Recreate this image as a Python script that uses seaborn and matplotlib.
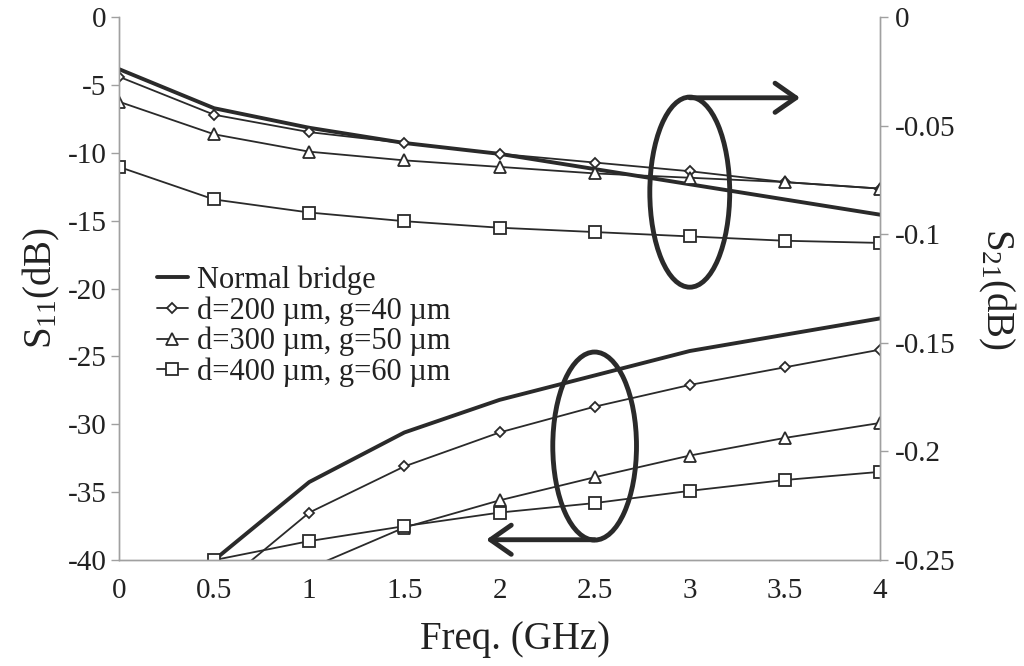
import numpy as np
import pandas as pd
import matplotlib
matplotlib.use("Agg")
import matplotlib.pyplot as plt
from matplotlib.patches import Ellipse
import seaborn as sns

# ---- data ----
freq = [0, 0.5, 1, 1.5, 2, 2.5, 3, 3.5, 4]
labels = ["Normal bridge", "d=200 µm, g=40 µm", "d=300 µm, g=50 µm", "d=400 µm, g=60 µm"]

# S21 (dB), right axis
s21_normal = [-0.024, -0.042, -0.051, -0.058, -0.063, -0.070, -0.077, -0.084, -0.091]
s21_d200 = [-0.0275, -0.045, -0.053, -0.058, -0.063, -0.067, -0.071, -0.076, -0.079]
s21_d300 = [-0.039, -0.054, -0.062, -0.066, -0.069, -0.072, -0.074, -0.076, -0.079]
s21_d400 = [-0.069, -0.084, -0.090, -0.094, -0.097, -0.099, -0.101, -0.103, -0.104]

# S11 (dB), left axis (nan = below the plotted range)
s11_normal = [np.nan, -40.0, -34.25, -30.6, -28.2, -26.4, -24.6, -23.4, -22.2]
s11_d200 = [np.nan, -42.3, -36.5, -33.1, -30.6, -28.7, -27.1, -25.8, -24.5]
s11_d300 = [np.nan, np.nan, -40.6, -37.6, -35.6, -33.9, -32.3, -31.0, -29.9]
s11_d400 = [np.nan, -40.0, -38.6, -37.5, -36.5, -35.8, -34.9, -34.1, -33.5]

xticks = [0, 0.5, 1, 1.5, 2, 2.5, 3, 3.5, 4]
xticklabels = ["0", "0.5", "1", "1.5", "2", "2.5", "3", "3.5", "4"]
yticks_left = [0, -5, -10, -15, -20, -25, -30, -35, -40]
yticks_right = [0, -0.05, -0.1, -0.15, -0.2, -0.25]
yticklabels_right = ["0", "-0.05", "-0.1", "-0.15", "-0.2", "-0.25"]

# ---- style ----
sns.set_style("white")
plt.rcParams["font.family"] = ["Liberation Serif", "DejaVu Serif"]
plt.rcParams["mathtext.fontset"] = "custom"
plt.rcParams["mathtext.rm"] = "Liberation Serif"
plt.rcParams["mathtext.it"] = "Liberation Serif:italic"
plt.rcParams["axes.unicode_minus"] = False

LC = "#2a2a2a"
SC = "#a0a0a0"
TC = "#222222"

fig = plt.figure(figsize=(10.24, 6.66), dpi=100)
ax = fig.add_axes([0.1162, 0.159, 0.7432, 0.8155])
ax2 = ax.twinx()

styles = [
    dict(marker=None, lw=2.8),
    dict(marker="D", markersize=5.5, lw=1.3),
    dict(marker="^", markersize=8, lw=1.3),
    dict(marker="s", markersize=8, lw=1.3),
]

s11_all = [s11_normal, s11_d200, s11_d300, s11_d400]
s21_all = [s21_normal, s21_d200, s21_d300, s21_d400]

for lab, ys, st in zip(labels, s11_all, styles):
    kw = dict(color=LC, lw=st["lw"])
    if st["marker"]:
        kw.update(marker=st["marker"], markersize=st["markersize"],
                  markerfacecolor="white", markeredgecolor=LC, markeredgewidth=1.3)
    df = pd.DataFrame({"f": freq, "v": ys}).dropna()
    sns.lineplot(data=df, x="f", y="v", ax=ax, estimator=None, sort=False,
                 label=lab, **kw)

for lab, ys, st in zip(labels, s21_all, styles):
    kw = dict(color=LC, lw=st["lw"])
    if st["marker"]:
        kw.update(marker=st["marker"], markersize=st["markersize"],
                  markerfacecolor="white", markeredgecolor=LC, markeredgewidth=1.3)
    df = pd.DataFrame({"f": freq, "v": ys})
    sns.lineplot(data=df, x="f", y="v", ax=ax2, estimator=None, sort=False,
                 legend=False, **kw)

ax.set_xlim(0, 4)
ax.set_ylim(-40, 0)
ax2.set_ylim(-0.25, 0)
ax.set_xticks(xticks)
ax.set_xticklabels(xticklabels)
ax.set_yticks(yticks_left)
ax.set_yticklabels([str(v) for v in yticks_left])
ax2.set_yticks(yticks_right)
ax2.set_yticklabels(yticklabels_right)

for a in (ax, ax2):
    a.spines["top"].set_visible(False)
    for s in ("left", "right", "bottom"):
        a.spines[s].set_color(SC)
        a.spines[s].set_linewidth(1.0)
    a.tick_params(colors=SC, labelcolor=TC, labelsize=21, length=6, width=1.0, direction="out")
ax.tick_params(axis="x", pad=7)
ax.tick_params(axis="y", pad=3)
ax2.tick_params(axis="y", pad=5)

ax.set_xlabel("Freq. (GHz)", fontsize=28, color=TC)
ax.xaxis.set_label_coords(0.52, -0.112)
ax.set_ylabel("S$_{11}$(dB)", fontsize=28, color=TC, labelpad=4)
ax2.set_ylabel("S$_{21}$(dB)", fontsize=28, color=TC, rotation=270, labelpad=44)

# annotations: ellipses and arrows
ax.add_patch(Ellipse((3.0, -12.9), 0.42, 14.0, fill=False, lw=3.5, ec=LC, zorder=5))
ax.annotate("", xy=(3.58, -5.95), xytext=(3.0, -5.95),
            arrowprops=dict(arrowstyle="->,head_length=0.5,head_width=0.35", lw=3.5,
                            color=LC, mutation_scale=30, shrinkA=0, shrinkB=0))
ax.add_patch(Ellipse((2.5, -31.6), 0.44, 13.85, fill=False, lw=3.5, ec=LC, zorder=5))
ax.annotate("", xy=(1.93, -38.5), xytext=(2.5, -38.5),
            arrowprops=dict(arrowstyle="->,head_length=0.5,head_width=0.35", lw=3.5,
                            color=LC, mutation_scale=30, shrinkA=0, shrinkB=0))

leg = ax.legend(loc="upper left", bbox_to_anchor=(0.034, 0.565), frameon=False,
                fontsize=22, handlelength=1.0, handletextpad=0.3, labelspacing=0.04,
                borderaxespad=0)
for t in leg.get_texts():
    t.set_color(TC)

fig.savefig("out.png", dpi=100)
